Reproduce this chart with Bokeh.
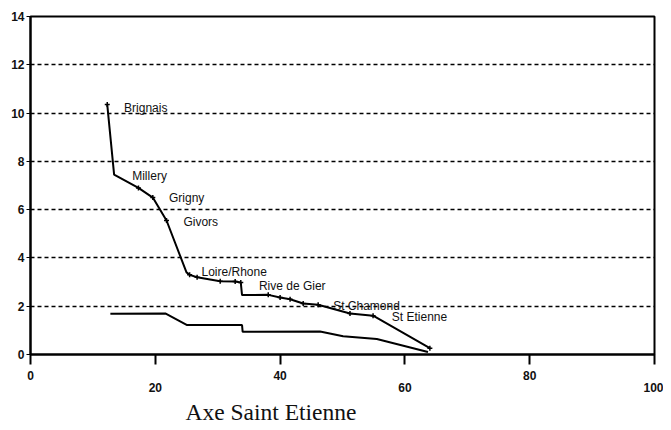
from bokeh.plotting import figure
from bokeh.models import LinearAxis, FixedTicker, Title, Range1d
from bokeh.core.properties import value
from bokeh.embed import file_html
from bokeh.resources import INLINE

# distance along the Saint Etienne axis (x) and values (y)
main_x = [12.3, 13.4, 17.3, 19.6, 21.8, 25.0, 25.5, 26.7, 30.4, 32.8, 33.7, 33.9,
          38.1, 40.0, 41.6, 43.7, 46.1, 51.2, 54.9, 64.0]
main_y = [10.35, 7.45, 6.9, 6.5, 5.55, 3.4, 3.3, 3.2, 3.03, 3.02, 2.98, 2.46,
          2.47, 2.36, 2.29, 2.11, 2.06, 1.70, 1.61, 0.26]
marked = [0, 2, 3, 4, 6, 7, 8, 9, 10, 12, 13, 14, 15, 16, 17, 18, 19]

low_x = [12.8, 21.6, 25.1, 33.9, 34.0, 46.4, 50.1, 55.5, 63.7]
low_y = [1.69, 1.70, 1.22, 1.22, 0.94, 0.95, 0.76, 0.64, 0.10]

names = ["Brignais", "Millery", "Grigny", "Givors", "Loire/Rhone",
         "Rive de Gier", "St Chamond", "St Etienne"]
label_x = [15.0, 16.3, 22.2, 24.5, 27.4, 36.6, 48.5, 57.9]
label_y = [10.23, 7.4, 6.5, 5.49, 3.43, 2.84, 2.02, 1.55]

x_ticks_a = [0, 20, 40, 60, 80, 100]
x_ticks_b = [20, 60, 100]
y_ticks = [0, 2, 4, 6, 8, 10, 12, 14]

p = figure(width=663, height=428, output_backend="svg", toolbar_location=None,
           x_range=Range1d(0, 100), y_range=Range1d(0, 14),
           x_axis_location=None, min_border_left=30, min_border_right=9,
           min_border_top=16, min_border_bottom=74)

p.outline_line_color = "black"
p.outline_line_width = 2
p.background_fill_color = "white"

# y axis
ya = p.yaxis[0]
ya.ticker = FixedTicker(ticks=y_ticks)
ya.axis_line_color = "black"
ya.axis_line_width = 2
ya.major_tick_out = 4
ya.major_tick_in = 0
ya.minor_tick_line_color = None
ya.major_label_standoff = 2
ya.major_label_text_font = "Liberation Sans"
ya.major_label_text_font_size = "12px"
ya.major_label_text_font_style = "bold"
ya.major_label_text_color = "#111111"

# grid
p.xgrid.grid_line_color = None
p.ygrid.ticker = FixedTicker(ticks=y_ticks[1:-1])
p.ygrid.grid_line_color = "black"
p.ygrid.grid_line_width = 1.6
p.ygrid.grid_line_dash = "4 3"

# x axis, staggered labels
xa = LinearAxis(ticker=FixedTicker(ticks=x_ticks_a))
xa.axis_line_color = "black"
xa.axis_line_width = 2
xa.major_tick_out = 10
xa.major_tick_in = 0
xa.major_tick_line_width = 2
xa.minor_tick_line_color = None
xa.major_label_standoff = 6
xa.major_label_overrides = {t: "" for t in x_ticks_b}
xa.major_label_text_font = "Liberation Sans"
xa.major_label_text_font_size = "12px"
xa.major_label_text_font_style = "bold"
xa.major_label_text_color = "#111111"
p.add_layout(xa, "below")

xb = LinearAxis(ticker=FixedTicker(ticks=x_ticks_b))
xb.axis_line_color = None
xb.major_tick_line_color = None
xb.minor_tick_line_color = None
xb.major_tick_out = 0
xb.major_tick_in = 0
xb.major_label_standoff = 0
xb.major_label_text_font = "Liberation Sans"
xb.major_label_text_font_size = "12px"
xb.major_label_text_font_style = "bold"
xb.major_label_text_color = "#111111"
p.add_layout(xb, "below")

# lines
p.line(low_x, low_y, line_color="black", line_width=2)
p.line(main_x, main_y, line_color="black", line_width=2)
p.scatter([main_x[i] for i in marked], [main_y[i] for i in marked],
          marker="cross", size=5, line_color="black", line_width=1.5)

p.text(label_x, label_y, text=names, text_font=value("Liberation Sans"),
       text_font_size="12px", text_align="left", text_baseline="middle",
       text_color="#111111")

t = Title(text="Axe Saint Etienne", align="left", offset=155, standoff=4,
          text_font="Liberation Serif", text_font_size="23.5px",
          text_font_style="normal", text_color="#111111")
p.add_layout(t, "below")

open("out.html", "w").write(file_html(p, INLINE))
